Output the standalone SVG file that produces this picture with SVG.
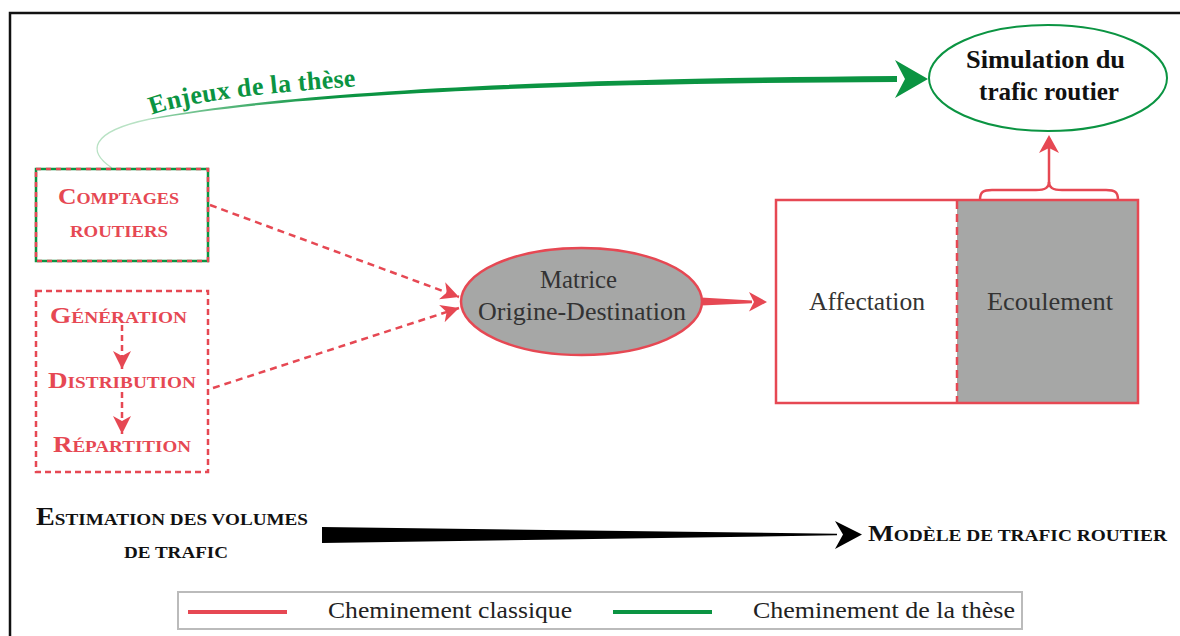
<svg xmlns="http://www.w3.org/2000/svg" width="1180" height="636" viewBox="0 0 1180 636">
<style>
.red{fill:#e64853;}
.rs{stroke:#e64853;fill:none;}
.b{font-weight:bold;}
.sc{font-size:17px;}
.dark{fill:#333;}
.blk{fill:#111;}
.grn{fill:#0b9442;}
</style>
<defs>
<linearGradient id="gfade" gradientUnits="userSpaceOnUse" x1="100" y1="0" x2="330" y2="0">
<stop offset="0" stop-color="#b8e2c4"/>
<stop offset="1" stop-color="#0b9442"/>
</linearGradient>
<marker id="rhead" viewBox="0 -10 20 20" refX="18" refY="0" markerWidth="20" markerHeight="20" markerUnits="userSpaceOnUse" orient="auto">
<path d="M18,0 L0,-9 L5,0 L0,9 Z" fill="#e64853"/>
</marker>
</defs>
<rect x="0" y="0" width="1180" height="636" fill="#fff"/>
<g id="frame" fill="none" stroke="#111" stroke-width="2.5">
<path d="M1180,13 L10,13 L10,636"/>
</g>

<g id="connectors">
<path d="M112,168 C88,152 88,132 150,119" fill="none" stroke="#b8e2c4" stroke-width="1.3"/>
<path d="M150,118.4 C300,90.5 550,78.5 897,76 L897,82 C550,83.5 300,93.5 150,119.6 Z" fill="url(#gfade)"/>
<path d="M928,79 L895,60 L905,79 L895,98 Z" fill="#0b9442"/>
<path d="M210,205 L459,297" class="rs" stroke-width="2.5" stroke-dasharray="7 5" marker-end="url(#rhead)"/>
<path d="M213,388 L459,308" class="rs" stroke-width="2.5" stroke-dasharray="7 5" marker-end="url(#rhead)"/>
<path d="M122,325 L122,369" class="rs" stroke-width="2.5" stroke-dasharray="6 4" marker-end="url(#rhead)"/>
<path d="M122,392 L122,434" class="rs" stroke-width="2.5" stroke-dasharray="6 4" marker-end="url(#rhead)"/>
<path d="M701,297.5 L752,300.6 L752,303.2 L701,305.5 Z" class="red"/>
<path d="M767,302 L749,292 L754,302 L749,311.5 Z" class="red"/>
<path d="M980,200 C980,192 983,190 992,190 L1036,190 C1045,190 1049,188 1049,182 C1049,188 1053,190 1062,190 L1106,190 C1115,190 1118,192 1118,200" class="rs" stroke-width="2.5"/>
<path d="M1049,183 L1049,148" class="rs" stroke-width="2.5"/>
<path d="M1049,135 L1059,153 L1049,148 L1039,153 Z" class="red"/>
<path d="M322,527 L837,533.7 L837,535.3 L322,543 Z" fill="#000"/>
<path d="M862,534.5 L835,521 L843,534.5 L835,549 Z" fill="#000"/>
</g>

<g id="enjeux-label">
<path id="enjeuxPath" d="M152,115 Q198,97 362,86" fill="none"/>
<text font-family="'Liberation Serif', serif" class="b grn" font-size="26" letter-spacing="0.3"><textPath href="#enjeuxPath">Enjeux de la thèse</textPath></text>
</g>

<g id="simulation">
<ellipse cx="1048" cy="78" rx="119" ry="53" fill="#fff" stroke="#0b9442" stroke-width="2"/>
<text font-family="'Liberation Serif', serif" x="1045.5" y="68" class="b blk" font-size="25" text-anchor="middle" textLength="159" lengthAdjust="spacingAndGlyphs">Simulation du</text>
<text font-family="'Liberation Serif', serif" x="1049" y="100" class="b blk" font-size="25" text-anchor="middle" textLength="140" lengthAdjust="spacingAndGlyphs">trafic routier</text>
</g>

<g id="comptages">
<rect x="36" y="169" width="172" height="92" fill="#fff" stroke="#0b9442" stroke-width="2.5"/>
<rect x="36" y="169" width="172" height="92" fill="none" stroke="#e64853" stroke-width="2.5" stroke-dasharray="5 5"/>
<text font-family="'Liberation Serif', serif" x="58" y="204" class="b red" font-size="24" textLength="121" lengthAdjust="spacingAndGlyphs">C<tspan class="sc">OMPTAGES</tspan></text>
<text font-family="'Liberation Serif', serif" x="70" y="237" class="b red sc" textLength="98" lengthAdjust="spacingAndGlyphs">ROUTIERS</text>
</g>

<g id="generation-distribution-repartition">
<rect x="36" y="291" width="172" height="181" fill="none" stroke="#e64853" stroke-width="2.5" stroke-dasharray="6 4"/>
<text font-family="'Liberation Serif', serif" x="50" y="323" class="b red" font-size="24" textLength="137" lengthAdjust="spacingAndGlyphs">G<tspan class="sc">ÉNÉRATION</tspan></text>
<text font-family="'Liberation Serif', serif" x="48" y="388" class="b red" font-size="24" textLength="148" lengthAdjust="spacingAndGlyphs">D<tspan class="sc">ISTRIBUTION</tspan></text>
<text font-family="'Liberation Serif', serif" x="53" y="452" class="b red" font-size="24" textLength="138" lengthAdjust="spacingAndGlyphs">R<tspan class="sc">ÉPARTITION</tspan></text>
</g>

<g id="matrice">
<ellipse cx="581.5" cy="301.5" rx="120.5" ry="53.5" fill="#a6a7a6" stroke="#e64853" stroke-width="2.5"/>
<text font-family="'Liberation Serif', serif" x="578.5" y="288" class="dark" font-size="24.5" text-anchor="middle" textLength="77" lengthAdjust="spacingAndGlyphs">Matrice</text>
<text font-family="'Liberation Serif', serif" x="582" y="320" class="dark" font-size="24.5" text-anchor="middle" textLength="208" lengthAdjust="spacingAndGlyphs">Origine-Destination</text>
</g>

<g id="affectation-ecoulement">
<rect x="957" y="200" width="181" height="203" fill="#a6a7a6"/>
<rect x="776" y="200" width="362" height="203" fill="none" stroke="#e64853" stroke-width="2.5"/>
<path d="M957,201 L957,402" class="rs" stroke-width="2.5" stroke-dasharray="8 5"/>
<text font-family="'Liberation Serif', serif" x="867" y="310" class="dark" font-size="25" text-anchor="middle" textLength="116" lengthAdjust="spacingAndGlyphs">Affectation</text>
<text font-family="'Liberation Serif', serif" x="1050" y="310" class="dark" font-size="25" text-anchor="middle" textLength="126" lengthAdjust="spacingAndGlyphs">Ecoulement</text>
</g>

<g id="estimation">
<text font-family="'Liberation Serif', serif" x="36" y="525" class="b blk" font-size="25" textLength="272" lengthAdjust="spacingAndGlyphs">E<tspan class="sc">STIMATION DES VOLUMES</tspan></text>
<text font-family="'Liberation Serif', serif" x="124" y="558" class="b blk sc" textLength="104" lengthAdjust="spacingAndGlyphs">DE TRAFIC</text>
</g>

<g id="modele">
<text font-family="'Liberation Serif', serif" x="868" y="541" class="b blk" font-size="24" textLength="299" lengthAdjust="spacingAndGlyphs">M<tspan class="sc">ODÈLE DE TRAFIC ROUTIER</tspan></text>
</g>

<g id="legend">
<rect x="178" y="592" width="844" height="37" fill="#fff" stroke="#bbbbbb" stroke-width="2"/>
<line x1="188" y1="612" x2="287" y2="612" stroke="#e64853" stroke-width="4"/>
<text font-family="'Liberation Serif', serif" x="328" y="618" fill="#222" font-size="24" textLength="244" lengthAdjust="spacingAndGlyphs">Cheminement classique</text>
<line x1="613" y1="612" x2="712" y2="612" stroke="#0b9442" stroke-width="4"/>
<text font-family="'Liberation Serif', serif" x="753" y="618" fill="#222" font-size="24" textLength="262" lengthAdjust="spacingAndGlyphs">Cheminement de la thèse</text>
</g>
</svg>
